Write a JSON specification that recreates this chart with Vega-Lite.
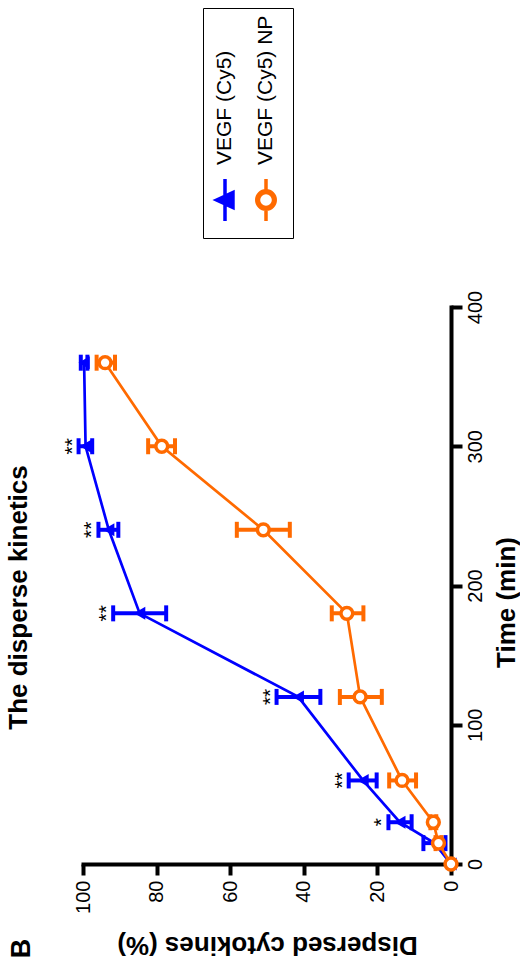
{
  "$schema": "https://vega.github.io/schema/vega-lite/v6.json",
  "autosize": "none",
  "width": 368,
  "height": 557,
  "padding": {"left": 83, "top": 307, "right": 69, "bottom": 100},
  "background": "white",
  "config": {
    "view": {"stroke": null},
    "font": "Liberation Sans",
    "axis": {"labelFont": "Liberation Sans", "titleFont": "Liberation Sans", "labelColor": "black", "titleColor": "black", "domainColor": "black", "tickColor": "black", "grid": false, "labelOverlap": false}
  },
  "title": {
    "text": "The disperse kinetics",
    "orient": "left",
    "anchor": "middle",
    "frame": "group",
    "font": "Liberation Sans",
    "fontSize": 26,
    "fontWeight": "bold",
    "color": "black",
    "offset": -24,
    "dx": -12
  },
  "data": {
    "values": [
      {"series": "VEGF (Cy5)", "t": 0, "mean": 0, "lo": 0, "hi": 0, "sig": ""},
      {"series": "VEGF (Cy5)", "t": 15, "mean": 4.5, "lo": 1.5, "hi": 7.5, "sig": ""},
      {"series": "VEGF (Cy5)", "t": 30, "mean": 13.9, "lo": 10.7, "hi": 17.0, "sig": "*"},
      {"series": "VEGF (Cy5)", "t": 60, "mean": 23.9, "lo": 20.2, "hi": 27.8, "sig": "**"},
      {"series": "VEGF (Cy5)", "t": 120, "mean": 41.5, "lo": 35.5, "hi": 47.4, "sig": "**"},
      {"series": "VEGF (Cy5)", "t": 180, "mean": 84.6, "lo": 77.4, "hi": 91.8, "sig": "**"},
      {"series": "VEGF (Cy5)", "t": 240, "mean": 93.0, "lo": 90.4, "hi": 95.8, "sig": "**"},
      {"series": "VEGF (Cy5)", "t": 300, "mean": 99.3, "lo": 97.5, "hi": 101.2, "sig": "**"},
      {"series": "VEGF (Cy5)", "t": 360, "mean": 99.7, "lo": 98.8, "hi": 100.6, "sig": ""},
      {"series": "VEGF (Cy5) NP", "t": 0, "mean": 0, "lo": 0, "hi": 0, "sig": ""},
      {"series": "VEGF (Cy5) NP", "t": 15, "mean": 3.4, "lo": 2.6, "hi": 4.2, "sig": ""},
      {"series": "VEGF (Cy5) NP", "t": 30, "mean": 4.8, "lo": 4.0, "hi": 5.6, "sig": ""},
      {"series": "VEGF (Cy5) NP", "t": 60, "mean": 13.3, "lo": 9.5, "hi": 16.8, "sig": ""},
      {"series": "VEGF (Cy5) NP", "t": 120, "mean": 24.7, "lo": 18.8, "hi": 30.2, "sig": ""},
      {"series": "VEGF (Cy5) NP", "t": 180, "mean": 28.3, "lo": 23.8, "hi": 32.4, "sig": ""},
      {"series": "VEGF (Cy5) NP", "t": 240, "mean": 51.0, "lo": 43.8, "hi": 58.2, "sig": ""},
      {"series": "VEGF (Cy5) NP", "t": 300, "mean": 78.6, "lo": 75.0, "hi": 82.3, "sig": ""},
      {"series": "VEGF (Cy5) NP", "t": 360, "mean": 94.0, "lo": 91.3, "hi": 96.3, "sig": ""}
    ]
  },
  "encoding": {
    "y": {
      "field": "t",
      "type": "quantitative",
      "scale": {"domain": [0, 400], "nice": false, "zero": false},
      "axis": {
        "orient": "right",
        "values": [0, 100, 200, 300, 400],
        "labelAngle": 270,
        "labelAlign": "center",
        "labelBaseline": "top",
        "labelFontSize": 20,
        "labelPadding": 3,
        "tickSize": 11,
        "tickWidth": 4,
        "domainWidth": 4,
        "domainCap": "square",
        "title": "Time (min)",
        "titleAngle": 270,
        "titleBaseline": "top",
        "titleFontSize": 26,
        "titleFontWeight": "bold",
        "titlePadding": 8,
        "titleY": 295
      }
    },
    "x": {
      "field": "mean",
      "type": "quantitative",
      "scale": {"domain": [0, 100], "reverse": true, "nice": false, "zero": false},
      "axis": {
        "orient": "bottom",
        "values": [0, 20, 40, 60, 80, 100],
        "labelAngle": 270,
        "labelAlign": "right",
        "labelBaseline": "middle",
        "labelFontSize": 20,
        "labelPadding": 5,
        "tickSize": 11,
        "tickWidth": 4,
        "domainWidth": 4,
        "domainCap": "square",
        "title": "Dispersed cytokines (%)",
        "titleAngle": 180,
        "titleBaseline": "bottom",
        "titleFontSize": 26,
        "titleFontWeight": "bold",
        "titlePadding": 18
      }
    },
    "color": {
      "field": "series",
      "type": "nominal",
      "scale": {"domain": ["VEGF (Cy5)", "VEGF (Cy5) NP"], "range": ["#0000ff", "#ff6a00"]},
      "legend": {
        "orient": "none",
        "legendX": 120,
        "legendY": -299,
        "direction": "horizontal",
        "title": null,
        "strokeColor": "black",
        "fillColor": "white",
        "padding": 10,
        "columnPadding": 9,
        "labelFont": "Liberation Sans",
        "labelFontSize": 21,
        "labelColor": "black",
        "labelLimit": 400,
        "symbolSize": 1764,
        "symbolStrokeWidth": 3.5,
        "encode": {
          "labels": {
            "update": {
              "angle": {"value": 270},
              "align": {"value": "left"},
              "baseline": {"value": "middle"},
              "x": {"value": 12},
              "y": {"value": 147}
            }
          },
          "symbols": {
            "update": {
              "x": {"value": 12},
              "y": {"value": 182},
              "shape": {"signal": "datum.value === 'VEGF (Cy5)' ? 'M0,-1L0,1M-0.4,0L0.38,-0.36L0.38,0.36Z' : 'M0,-1L0,-0.44M0,0.44L0,1M-0.44,0A0.44,0.44,0,1,1,0.44,0A0.44,0.44,0,1,1,-0.44,0ZM-0.36,0A0.36,0.36,0,1,0,0.36,0A0.36,0.36,0,1,0,-0.36,0Z'"},
              "stroke": {"signal": "datum.value === 'VEGF (Cy5)' ? '#0000ff' : '#ff6a00'"},
              "strokeWidth": {"value": 3.5},
              "opacity": {"value": 1}
            }
          }
        }
      }
    }
  },
  "layer": [
    {
      "transform": [{"filter": "datum.hi > datum.lo"}],
      "mark": {"type": "rule", "strokeWidth": 4},
      "encoding": {
        "x": {"field": "lo"},
        "x2": {"field": "hi"}
      }
    },
    {
      "transform": [{"filter": "datum.hi > datum.lo"}],
      "mark": {"type": "tick", "orient": "vertical", "size": 16, "thickness": 4, "opacity": 1},
      "encoding": {
        "x": {"field": "lo"}
      }
    },
    {
      "transform": [{"filter": "datum.hi > datum.lo"}],
      "mark": {"type": "tick", "orient": "vertical", "size": 16, "thickness": 4, "opacity": 1},
      "encoding": {
        "x": {"field": "hi"}
      }
    },
    {
      "mark": {"type": "line", "strokeWidth": 2.7},
      "encoding": {
        "order": {"field": "t"}
      }
    },
    {
      "transform": [{"filter": "datum.series === 'VEGF (Cy5)'"}],
      "mark": {"type": "point", "shape": "triangle-left", "filled": true, "size": 170, "opacity": 1}
    },
    {
      "transform": [{"filter": "datum.series === 'VEGF (Cy5) NP'"}],
      "mark": {"type": "point", "shape": "circle", "filled": true, "strokeWidth": 3.5, "size": 140, "opacity": 1},
      "encoding": {
        "fill": {"value": "#ffffff"},
        "stroke": {"value": "#ff6a00"}
      }
    },
    {
      "transform": [{"filter": "datum.sig !== ''"}],
      "mark": {"type": "text", "angle": 270, "align": "center", "baseline": "alphabetic", "fontSize": 21, "font": "Liberation Sans"},
      "encoding": {
        "x": {"field": "hi"},
        "text": {"field": "sig"},
        "color": {"value": "black"}
      }
    },
    {
      "transform": [{"filter": "datum.t === 0 && datum.series === 'VEGF (Cy5)'"}],
      "mark": {"type": "text", "angle": 270, "align": "center", "baseline": "middle", "fontSize": 27, "fontWeight": "bold", "font": "Liberation Sans"},
      "encoding": {
        "x": {"datum": 116.6},
        "y": {"datum": -60.6},
        "text": {"value": "B"},
        "color": {"value": "black"}
      }
    }
  ]
}
